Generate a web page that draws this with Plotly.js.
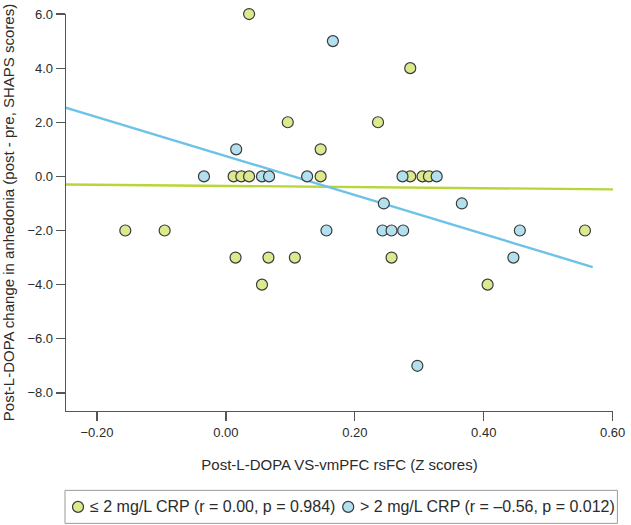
<!DOCTYPE html>
<html>
<head>
<meta charset="utf-8">
<script src="https://cdn.plot.ly/plotly-3.0.1.min.js"></script>
<style>
  html, body { margin: 0; padding: 0; background: #fff; }
  #chart { width: 631px; height: 525px; }
</style>
</head>
<body>
<div id="chart"></div>
<script>
// ---- Data ----
const lowCrpX = [-0.156, -0.095, 0.012, 0.015, 0.024, 0.036, 0.036, 0.056, 0.066, 0.096, 0.107, 0.147, 0.147, 0.236, 0.257, 0.286, 0.286, 0.305, 0.315, 0.406, 0.557];
const lowCrpY = [-2, -2, 0, -3, 0, 0, 6, -4, -3, 2, -3, 1, 0, 2, -3, 4, 0, 0, 0, -4, -2];

const highCrpX = [-0.034, 0.016, 0.056, 0.067, 0.126, 0.156, 0.166, 0.243, 0.245, 0.257, 0.274, 0.275, 0.297, 0.327, 0.366, 0.446, 0.456];
const highCrpY = [0, 1, 0, 0, 0, -2, 5, -2, -1, -2, 0, -2, -7, 0, -1, -3, -2];

const lowFitX = [-0.248, 0.608];
const lowFitY = [-0.30, -0.48];
const highFitX = [-0.250, 0.569];
const highFitY = [2.55, -3.35];

const legendLabels = ["\u2264 2 mg/L CRP (r = 0.00, p = 0.984)", "> 2 mg/L CRP (r = \u20130.56, p = 0.012)"];
const xTitle = "Post-L-DOPA VS-vmPFC rsFC (Z scores)";
const yTitle = "Post-L-DOPA change in anhedonia (post - pre, SHAPS scores)";

// ---- Styling ----
const FONT = '"Liberation Sans", Arial, Helvetica, sans-serif';
const TXT = '#2b2b2b';
const lowFill = '#dce98f';
const highFill = '#b3e0ef';
const lowLine = '#b6d63a';
const highLine = '#6dc2e7';
const edge = '#3a3a3a';

// Plot box in pixels
const W = 631, H = 525;
const L = 66, R = 612.6, T = 14, B = 410.7;
const px = v => (v - L) / (R - L);     // pixel x -> paper
const py = v => (B - v) / (B - T);     // pixel y -> paper

const traces = [
  { x: lowFitX, y: lowFitY, mode: 'lines', type: 'scatter', cliponaxis: false,
    line: { color: lowLine, width: 2.4 }, hoverinfo: 'skip', showlegend: false },
  { x: highFitX, y: highFitY, mode: 'lines', type: 'scatter', cliponaxis: false,
    line: { color: highLine, width: 2.4 }, hoverinfo: 'skip', showlegend: false },
  { x: lowCrpX, y: lowCrpY, mode: 'markers', type: 'scatter', cliponaxis: false,
    name: legendLabels[0], showlegend: false,
    marker: { size: 11, color: lowFill, line: { color: edge, width: 1.2 } } },
  { x: highCrpX, y: highCrpY, mode: 'markers', type: 'scatter', cliponaxis: false,
    name: legendLabels[1], showlegend: false,
    marker: { size: 11, color: highFill, line: { color: edge, width: 1.2 } } }
];

// Legend drawn as a box with symbols and text
const legTop = 490, legBot = 523, legL = 65, legRgt = 617, legMid = 506.5;
const sym = [78, 348], txt = [88, 358];
const fills = [lowFill, highFill];

const shapes = [
  { type: 'rect', xref: 'paper', yref: 'paper', x0: px(legL), x1: px(legRgt), y0: py(legBot), y1: py(legTop),
    line: { color: '#9a9a9a', width: 1 }, fillcolor: 'rgba(0,0,0,0)' }
];
const annotations = [];
for (let i = 0; i < 2; i++) {
  shapes.push({ type: 'circle', xref: 'paper', yref: 'paper', xsizemode: 'pixel', ysizemode: 'pixel',
    xanchor: px(sym[i]), yanchor: py(legMid), x0: -5.5, x1: 5.5, y0: -5.5, y1: 5.5,
    fillcolor: fills[i], line: { color: edge, width: 1.2 } });
  annotations.push({ xref: 'paper', yref: 'paper', x: px(txt[i]), y: py(legMid), xanchor: 'left', yanchor: 'middle',
    text: legendLabels[i], showarrow: false, font: { family: FONT, size: 16, color: TXT } });
}

const layout = {
  width: W, height: H,
  margin: { l: L, r: W - R, t: T, b: H - B, pad: 0 },
  paper_bgcolor: '#fff', plot_bgcolor: '#fff',
  showlegend: false,
  font: { family: FONT, color: TXT, size: 13 },
  xaxis: {
    range: [-0.248, 0.6005], tick0: -0.2, dtick: 0.2, tickformat: '.2f',
    showgrid: false, zeroline: false, showline: true, linecolor: '#555', linewidth: 1.3,
    ticks: 'outside', ticklen: 9, tickwidth: 1.3, tickcolor: '#555',
    tickfont: { family: FONT, size: 13, color: TXT },
    title: { text: xTitle, font: { family: FONT, size: 15, color: TXT }, standoff: 20 }
  },
  yaxis: {
    range: [-8.67, 6.001], tick0: 0, dtick: 2, tickformat: '.1f',
    showgrid: false, zeroline: false, showline: true, linecolor: '#555', linewidth: 1.3,
    ticks: 'outside', ticklen: 9, tickwidth: 1.3, tickcolor: '#555',
    tickfont: { family: FONT, size: 13, color: TXT },
    title: { text: yTitle, font: { family: FONT, size: 15, color: TXT }, standoff: 10 }
  },
  shapes: shapes,
  annotations: annotations
};

Plotly.newPlot('chart', traces, layout, { displayModeBar: false, staticPlot: true });
</script>
</body>
</html>
